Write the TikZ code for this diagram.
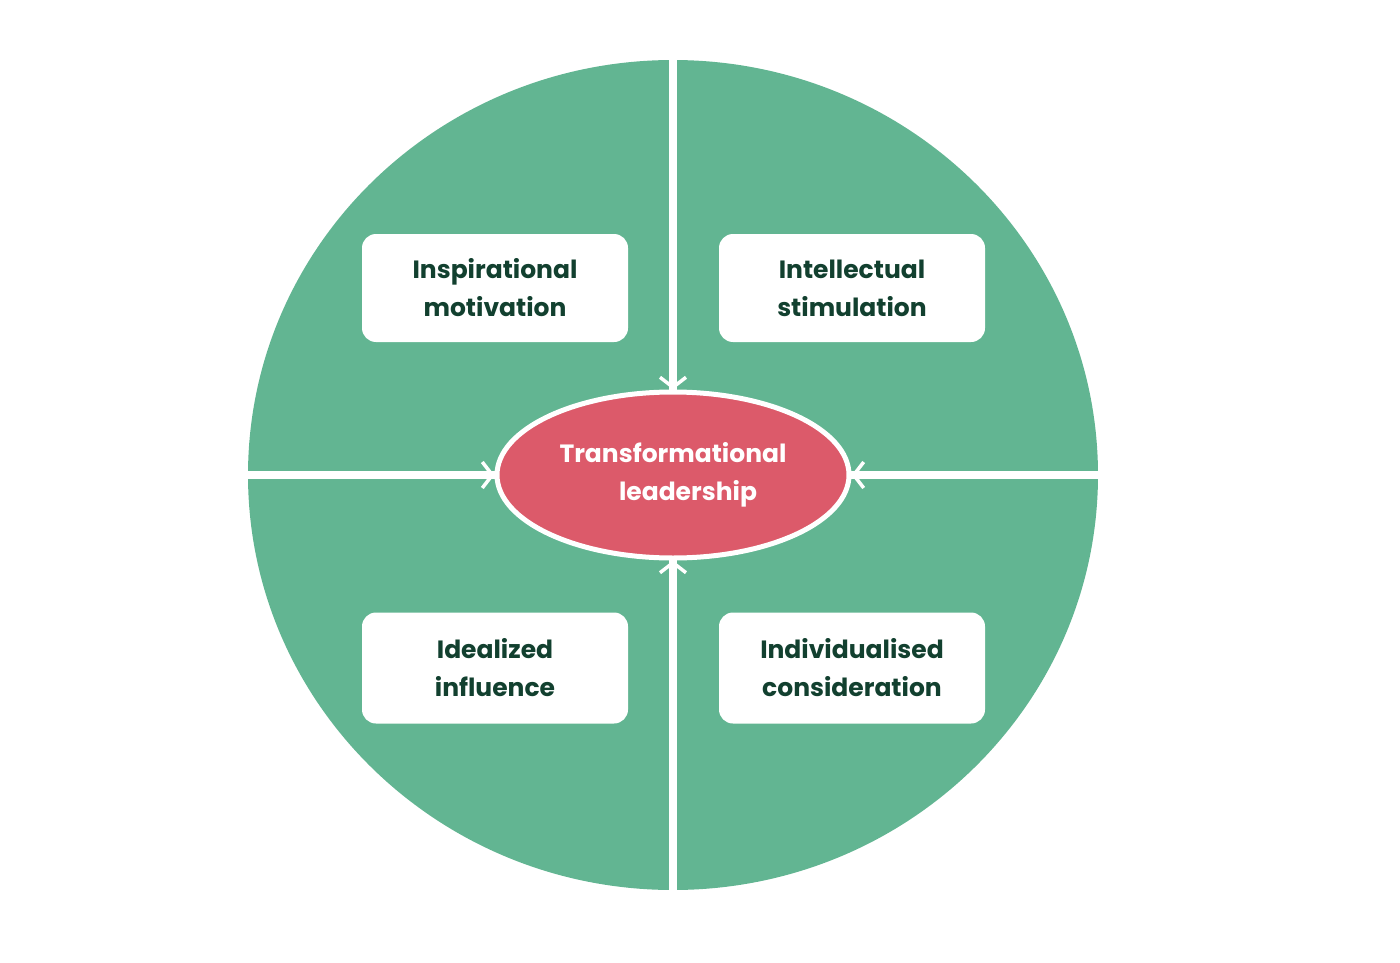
\documentclass[tikz,border=0pt]{standalone}
\usepackage{fontspec}
\setmainfont{Poppins}
\usetikzlibrary{arrows.meta,shapes.geometric}
\definecolor{grn}{HTML}{62B592}
\definecolor{txt}{HTML}{12402F}
\definecolor{red}{HTML}{DC5A6A}
\tikzset{box/.style={fill=white,rounded corners=14pt,minimum width=266pt,minimum height=108pt,text=txt,font=\fontsize{25}{38}\selectfont\bfseries,align=center},
arr/.style={white,line width=5pt,-{Straight Barb[length=10pt,width=26pt,line width=3.5pt]}}}
\begin{document}
\begin{tikzpicture}[x=1pt,y=-1pt]
\useasboundingbox (0,0) rectangle (1400,963);
\fill[grn] (673,475) ellipse [x radius=425, y radius=415];
\draw[white,line width=8pt] (673,50) -- (673,900) (240,475) -- (1110,475);
\node[box] (im) at (495,288) {Inspirational\\motivation};
\node[box] (is) at (852,288) {Intellectual\\stimulation};
\node[box,minimum height=111pt] (ii) at (495,668) {Idealized\\influence};
\node[box,minimum height=111pt] (ic) at (852,668) {Individualised\\consideration};
\node[ellipse,fill=red,draw=white,line width=5pt,minimum width=352pt,minimum height=166pt,text=white,font=\fontsize{25}{38}\selectfont\bfseries,align=center] (tl) at (673,475) {Transformational\\\hspace*{1.2em}leadership};
\coordinate (t) at (673,60);\coordinate (b) at (673,890);
\coordinate (l) at (248,475);\coordinate (r) at (1098,475);
\draw[arr] (t) -- (tl.north);
\draw[arr] (b) -- (tl.south);
\draw[arr] (l) -- (tl.west);
\draw[arr] (r) -- (tl.east);
\end{tikzpicture}
\end{document}
